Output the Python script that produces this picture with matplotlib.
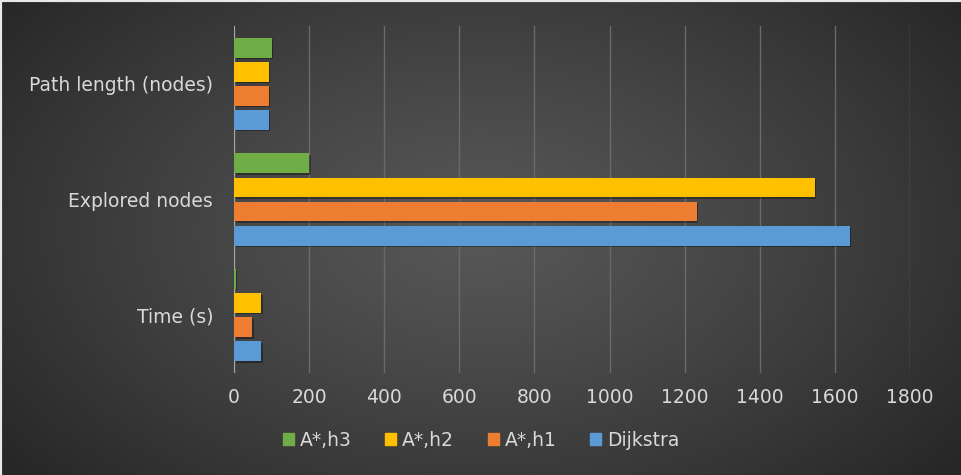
import numpy as np
import matplotlib
matplotlib.use("Agg")
import matplotlib.pyplot as plt
from matplotlib.patches import Rectangle
from matplotlib.lines import Line2D

categories = ["Time (s)", "Explored nodes", "Path length (nodes)"]
series_names = ["Dijkstra", "A*,h1", "A*,h2", "A*,h3"]
dijkstra = [72, 1640, 92]
astar_h1 = [48, 1232, 92]
astar_h2 = [72, 1547, 92]
astar_h3 = [5, 200, 100]
x_ticks = [0, 200, 400, 600, 800, 1000, 1200, 1400, 1600, 1800]

values = [dijkstra, astar_h1, astar_h2, astar_h3]
colors = ["#5B9BD5", "#ED7D31", "#FFC000", "#70AD47"]
text_color = "#D9D9D9"

plt.rcParams["font.family"] = ["DejaVu Sans"]

fig = plt.figure(figsize=(9.62, 4.75), dpi=100)

# radial dark background
bg = fig.add_axes([0, 0, 1, 1], zorder=-10)
h, w = 475, 962
yy, xx = np.mgrid[0:h, 0:w]
r = np.sqrt(((xx - 480) / 620.0) ** 2 + ((yy - 230) / 380.0) ** 2)
r = np.clip(r, 0, 1)
inner, outer = 0x57, 0x26
shade = (inner + (outer - inner) * r ** 1.2) / 255.0
img = np.dstack([shade, shade, shade])
bg.imshow(img, aspect="auto", extent=[0, 1, 0, 1], origin="upper")
bg.set_axis_off()
bg.add_line(Line2D([0, 0, 1], [0, 1, 1], color="#E8E8E8", lw=3, transform=bg.transAxes))

ax = fig.add_axes([234 / 962, 1 - 373 / 475, (910 - 234) / 962, (373 - 26) / 475])
ax.set_facecolor("none")

step = 0.208
height = 0.172
y = np.arange(len(categories))
offsets = [-1.5, -0.5, 0.5, 1.5]
for vals, off, col, name in zip(values, offsets, colors, series_names):
    ypos = y + off * step
    # soft shadow beneath each bar
    ax.barh(ypos - 0.012, vals, height=height, left=4, color="#000000", alpha=0.35,
            zorder=2, linewidth=0)
    ax.barh(ypos, vals, height=height, color=col, zorder=3, linewidth=0, label=name)

ax.set_xlim(0, 1800)
ax.set_ylim(-0.5, 2.5)
ax.set_xticks(x_ticks)
ax.set_xticklabels([str(t) for t in x_ticks])
ax.set_yticks(y)
ax.set_yticklabels(categories)
ax.tick_params(axis="x", length=0, pad=11, colors=text_color, labelsize=13.5)
ax.tick_params(axis="y", length=0, pad=15, colors=text_color, labelsize=13.5)
ax.grid(axis="x", color="#6A6A6A", lw=1, zorder=0)
ax.axvline(0, color="#A8A8A8", lw=1.5, zorder=2.5)
for s in ax.spines.values():
    s.set_visible(False)

handles = [Rectangle((0, 0), 1, 1, color=c) for c in colors[::-1]]
leg = fig.legend(handles, series_names[::-1], loc="center", bbox_to_anchor=(0.5, 1 - 440 / 475),
                 ncol=4, frameon=False, handlelength=0.6, handleheight=0.6,
                 handletextpad=0.3, columnspacing=1.8, fontsize=13.5)
for t in leg.get_texts():
    t.set_color(text_color)

fig.savefig("out.png", dpi=100)
